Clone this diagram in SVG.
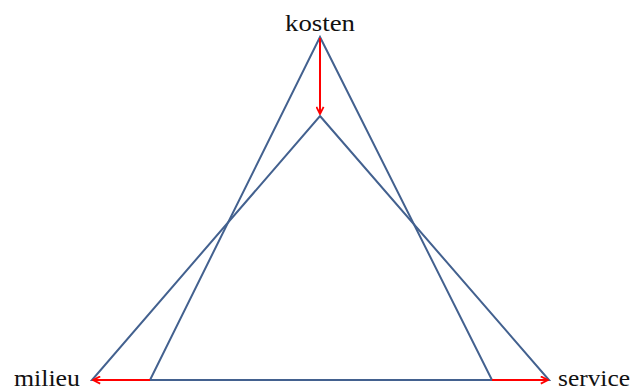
<svg xmlns="http://www.w3.org/2000/svg" width="632" height="392" viewBox="0 0 632 392">
<style>
.tri{fill:none;stroke:#43618f;stroke-width:2;stroke-linejoin:miter}
.arr{stroke:#ff0000;stroke-width:2;fill:none}
text{font-family:"Liberation Serif","DejaVu Serif",serif;font-size:24px;fill:#111}
</style>
<defs>
<marker id="ah" viewBox="0 0 10 10" refX="9" refY="5" markerWidth="9" markerHeight="9" orient="auto" markerUnits="userSpaceOnUse">
<path d="M1,1 L9,5 L1,9" fill="none" stroke="#ff0000" stroke-width="2"/>
</marker>
</defs>
<rect width="632" height="392" fill="#fff"/>
<g id="triangle-old"><polygon class="tri" points="320,37 492,380 150,380"/></g>
<g id="triangle-new"><polygon class="tri" points="320,116 549,380 92,380"/></g>
<g id="kosten"><text x="320" y="31" text-anchor="middle" textLength="70" lengthAdjust="spacingAndGlyphs">kosten</text></g>
<g id="milieu"><text x="14" y="386" textLength="66" lengthAdjust="spacingAndGlyphs">milieu</text></g>
<g id="service"><text x="558" y="386" textLength="72" lengthAdjust="spacingAndGlyphs">service</text></g>
<g id="connectors">
<line class="arr" x1="320" y1="38" x2="320" y2="114" marker-end="url(#ah)"/>
<line class="arr" x1="150" y1="380" x2="93" y2="380" marker-end="url(#ah)"/>
<line class="arr" x1="492" y1="380" x2="548" y2="380" marker-end="url(#ah)"/>
</g>
</svg>
